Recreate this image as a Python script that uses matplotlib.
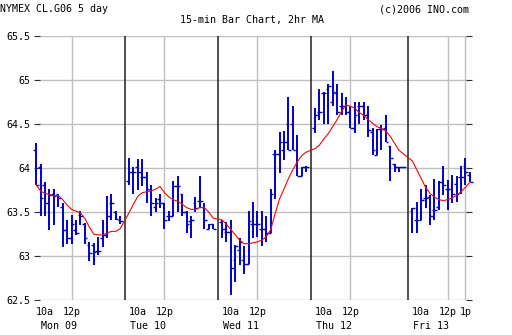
import numpy as np
import matplotlib
matplotlib.use("Agg")
import matplotlib.pyplot as plt

# 15-min bars, one list per field, one row per day (Mon..Fri)
days = ["Mon 09", "Tue 10", "Wed 11", "Thu 12", "Fri 13"]
bars_per_day = [20, 20, 20, 21, 14]
day_start_slot = [0, 21, 42, 63, 85]

bar_high = [
    64.28, 64.05, 63.84, 63.76, 63.76, 63.71, 63.60, 63.41, 63.47, 63.41, 63.51, 63.37, 63.16, 63.15, 63.22, 63.41, 63.68, 63.70, 63.51, 63.45,
    64.11, 64.01, 64.10, 64.10, 63.96, 63.81, 63.66, 63.71, 63.60, 63.51, 63.85, 63.91, 63.70, 63.51, 63.46, 63.67, 63.91, 63.60, 63.36, 63.36,
    63.41, 63.39, 63.41, 63.12, 63.21, 63.11, 63.51, 63.61, 63.51, 63.51, 63.45, 63.76, 64.20, 64.41, 64.42, 64.81, 64.70, 64.38, 64.01, 64.02,
    64.68, 64.90, 64.86, 64.95, 65.10, 64.96, 64.85, 64.81, 64.70, 64.75, 64.75, 64.75, 64.70, 64.45, 64.44, 64.49, 64.60, 64.25, 64.05, 64.01, 64.01,
    63.55, 63.61, 63.76, 63.81, 63.69, 63.87, 63.85, 64.02, 63.86, 63.92, 63.91, 64.02, 64.11, 63.96,
]
bar_low = [
    63.81, 63.45, 63.45, 63.30, 63.35, 63.56, 63.10, 63.14, 63.14, 63.24, 63.35, 63.14, 62.94, 62.90, 63.01, 63.10, 63.20, 63.41, 63.41, 63.36,
    63.81, 63.70, 63.75, 63.79, 63.60, 63.45, 63.50, 63.55, 63.31, 63.40, 63.46, 63.50, 63.46, 63.26, 63.20, 63.50, 63.55, 63.31, 63.31, 63.31,
    63.20, 63.16, 62.56, 62.71, 62.90, 62.80, 62.91, 63.20, 63.22, 63.11, 63.16, 63.26, 63.65, 63.94, 64.09, 64.20, 64.20, 63.91, 63.91, 63.95,
    64.40, 64.54, 64.50, 64.50, 64.70, 64.60, 64.60, 64.60, 64.45, 64.40, 64.50, 64.54, 64.35, 64.15, 64.15, 64.20, 64.30, 63.85, 63.95, 63.95, 64.00,
    63.26, 63.26, 63.41, 63.55, 63.35, 63.41, 63.52, 63.69, 63.52, 63.60, 63.61, 63.71, 63.81, 63.84,
]
bar_open = [
    64.20, 64.01, 63.81, 63.60, 63.70, 63.70, 63.56, 63.30, 63.20, 63.30, 63.47, 63.36, 63.13, 63.12, 63.06, 63.20, 63.24, 63.60, 63.50, 63.41,
    63.85, 63.95, 64.01, 63.90, 63.90, 63.75, 63.56, 63.65, 63.60, 63.46, 63.46, 63.80, 63.70, 63.50, 63.40, 63.60, 63.63, 63.56, 63.31, 63.36,
    63.39, 63.27, 63.27, 62.96, 63.07, 62.96, 62.91, 63.36, 63.36, 63.31, 63.31, 63.26, 64.16, 64.16, 64.20, 64.50, 64.50, 64.20, 63.91, 64.01,
    64.45, 64.64, 64.85, 64.90, 64.75, 64.85, 64.70, 64.70, 64.64, 64.45, 64.70, 64.70, 64.60, 64.41, 64.15, 64.44, 64.45, 64.25, 64.05, 64.01, 64.01,
    63.51, 63.41, 63.41, 63.66, 63.67, 63.52, 63.56, 63.84, 63.76, 63.76, 63.82, 63.90, 64.02, 63.92,
]
bar_close = [
    63.81, 63.66, 63.60, 63.69, 63.68, 63.66, 63.30, 63.20, 63.36, 63.26, 63.45, 63.21, 63.03, 63.05, 63.06, 63.24, 63.45, 63.60, 63.42, 63.40,
    63.95, 63.95, 63.95, 63.90, 63.76, 63.60, 63.60, 63.60, 63.41, 63.46, 63.80, 63.80, 63.50, 63.36, 63.41, 63.55, 63.63, 63.41, 63.36, 63.31,
    63.31, 63.27, 62.86, 63.11, 63.16, 62.91, 63.40, 63.36, 63.36, 63.31, 63.26, 63.70, 64.16, 64.30, 64.30, 64.20, 64.20, 63.91, 64.01, 64.01,
    64.60, 64.64, 64.85, 64.93, 64.86, 64.64, 64.70, 64.64, 64.45, 64.60, 64.70, 64.60, 64.43, 64.20, 64.44, 64.44, 64.30, 64.11, 64.01, 64.01, 64.01,
    63.55, 63.41, 63.64, 63.66, 63.45, 63.52, 63.84, 63.81, 63.76, 63.70, 63.70, 63.90, 63.96, 63.84,
]
ma_2hr = [
    63.81, 63.74, 63.71, 63.70, 63.68, 63.69, 63.64, 63.58, 63.53, 63.51, 63.49, 63.43, 63.33, 63.25, 63.24, 63.24, 63.26, 63.28, 63.28, 63.31,
    63.49, 63.59, 63.68, 63.72, 63.73, 63.74, 63.76, 63.79, 63.72, 63.67, 63.64, 63.62, 63.59, 63.55, 63.53, 63.53, 63.55, 63.55, 63.50, 63.43,
    63.41, 63.36, 63.30, 63.24, 63.18, 63.14, 63.14, 63.15, 63.16, 63.18, 63.22, 63.30, 63.48, 63.65, 63.76, 63.88, 63.98, 64.07, 64.14, 64.18,
    64.22, 64.26, 64.33, 64.39, 64.47, 64.55, 64.64, 64.72, 64.70, 64.68, 64.63, 64.60, 64.55, 64.51, 64.47, 64.45, 64.42, 64.36, 64.28, 64.20, 64.16,
    64.08, 63.98, 63.88, 63.78, 63.71, 63.67, 63.64, 63.63, 63.64, 63.66, 63.69, 63.73, 63.78, 63.84,
]
price_ticks = [62.5, 63, 63.5, 64, 64.5, 65, 65.5]

BLUE = "#0000cc"
RED = "#ff0000"
GRID = "#c0c0c0"
SEP = "#202020"
FONT = "DejaVu Sans Mono"
FS = 7.2


def bar_slots():
    return np.concatenate([s + np.arange(n) for s, n in zip(day_start_slot, bars_per_day)])


def main():
    x = bar_slots()
    W, H = 512, 335
    fig = plt.figure(figsize=(W / 100, H / 100), dpi=100)
    ax = fig.add_axes([37 / W, (H - 300) / H, 432 / W, 264 / H])
    ax.set_xlim(0.2, 97.8)
    ax.set_ylim(62.5, 65.5)
    for s in ax.spines.values():
        s.set_visible(False)

    # grid: gray at 12p (and 1p fri), black day separators
    for p in price_ticks:
        ax.axhline(p, color=GRID, lw=1.0, zorder=1)
    for s in day_start_slot:
        ax.axvline(s + 8, color=GRID, lw=1.0, zorder=1)
        if s > 0:
            ax.axvline(s - 1, color=SEP, lw=1.1, zorder=1)
    ax.axvline(day_start_slot[-1] + 12, color=GRID, lw=1.0, zorder=1)

    # OHLC bars
    ax.vlines(x, bar_low, bar_high, color=BLUE, lw=1.4, zorder=3, clip_on=False)
    ax.hlines(bar_open, x - 0.6, x, color=BLUE, lw=1.0, zorder=3, clip_on=False)
    ax.hlines(bar_close, x, x + 0.6, color=BLUE, lw=1.0, zorder=3, clip_on=False)

    # 2hr moving average
    ax.plot(x, ma_2hr, color=RED, lw=0.8, zorder=4, clip_on=False)

    ax.set_yticks(price_ticks)
    ax.set_yticklabels([f"{p:g}" for p in price_ticks], fontfamily=FONT, fontsize=FS)
    ax.tick_params(axis="y", direction="inout", length=4.3, width=0.8, color="#333333",
                   pad=2.9, right=True, labelright=False)
    ax.set_xticks([])

    tr = ax.get_xaxis_transform()
    for i, (s, d) in enumerate(zip(day_start_slot, days)):
        ax.text(s - 0.1, -0.045, "10a", transform=tr, ha="left", va="center",
                fontfamily=FONT, fontsize=FS)
        ax.text(s + 8, -0.045, "12p", transform=tr, ha="center", va="center",
                fontfamily=FONT, fontsize=FS)
        cx = s + 4.3 if i else 5.2
        ax.text(cx, -0.098, d, transform=tr, ha="center", va="center",
                fontfamily=FONT, fontsize=FS)
    ax.text(day_start_slot[-1] + 12, -0.045, "1p", transform=tr, ha="center", va="center",
            fontfamily=FONT, fontsize=FS)

    fig.text(0 / W, 1 - 9 / H, "NYMEX CL.G06 5 day", ha="left", va="center",
             fontfamily=FONT, fontsize=FS)
    fig.text(252.5 / W, 1 - 20 / H, "15-min Bar Chart, 2hr MA", ha="center", va="center",
             fontfamily=FONT, fontsize=FS)
    fig.text(469 / W, 1 - 9 / H, "(c)2006 INO.com", ha="right", va="center",
             fontfamily=FONT, fontsize=FS)

    fig.savefig("out.png", dpi=100, facecolor="white")


if __name__ == "__main__":
    main()
